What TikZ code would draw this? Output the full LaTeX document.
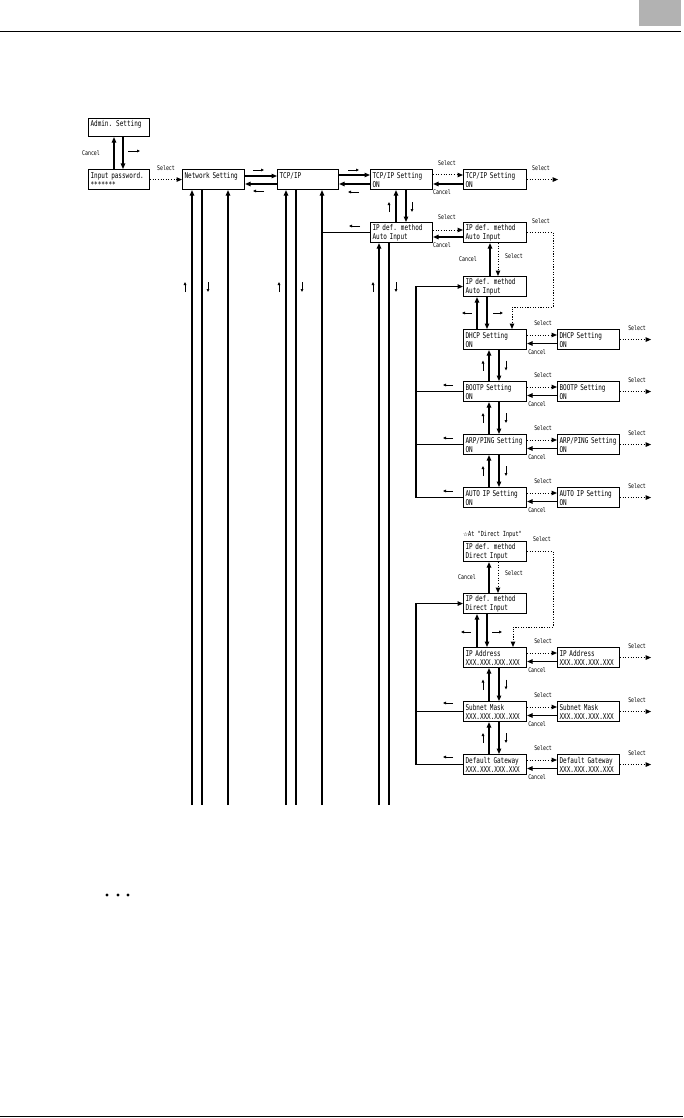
\documentclass[tikz,border=0pt]{standalone}
\usepackage{fontspec}
\setmonofont{Liberation Mono}
\newfontfamily\dejavufont{DejaVu Sans}
\newfontfamily\narrowmono[FakeStretch=0.75]{DejaVu Sans Mono}
\usetikzlibrary{arrows.meta}
\newcommand\bxfont{\fontsize{8}{9}\selectfont\narrowmono}
\newcommand\lbfont{\fontsize{6.5}{7}\selectfont\narrowmono}
\tikzset{
  box/.style={draw, line width=1.1pt, anchor=north west, minimum height=20pt,
    text width=58pt, inner xsep=2pt, inner ysep=0pt, align=left, font=\bxfont},
  boxL/.style={box, text width=59pt},
  lbl/.style={font=\lbfont, inner sep=0pt, anchor=west},
  arr/.style={line width=1.1pt, -{Triangle[length=5.5pt,width=4.5pt]}},
  ln/.style={line width=1.1pt},
  dotarr/.style={line width=1pt, dash pattern=on 1.1pt off 1.5pt, -{Triangle[length=5.5pt,width=4.5pt]}},
  dirarr/.style={line width=0.7pt, -{Triangle[length=3pt,width=2.6pt]}},
}
\begin{document}
\begin{tikzpicture}[x=1pt,y=-1pt]
\useasboundingbox (0,0) rectangle (683,1118);
% header / footer
\fill[black!30] (639,0) rectangle (681,26);
\draw[line width=1pt] (0,32) -- (681,32);
\draw[line width=1.3pt] (0,1116.5) -- (683,1116.5);
\fill (107,895) circle (1.6pt) (118,895) circle (1.6pt) (128,895) circle (1.6pt);

% ---------- boxes ----------
\node[box, minimum height=18pt, text width=57pt] (admin) at (88,118) {Admin. Setting\\\mbox{}};
\node[box, text width=57pt] (pw) at (88,169) {Input password.\\********};
\node[box] (net) at (182,169) {Network Setting\\\mbox{}};
\node[box, text width=57pt] (tcp) at (277,169) {TCP/IP\\\mbox{}};
\node[box] (ts1) at (370,169) {TCP/IP Setting\\ON};
\node[boxL] (ts2) at (463,169) {TCP/IP Setting\\ON};
\node[box] (ip2) at (370,222) {IP def. method\\Auto Input};
\node[boxL] (ipR) at (463,222) {IP def. method\\Auto Input};
\node[boxL] (ip3) at (463,276) {IP def. method\\Auto Input};
\node[boxL] (dhcp) at (463,329) {DHCP Setting\\ON};
\node[box] (dhcpR) at (557,329) {DHCP Setting\\ON};
\node[boxL] (boot) at (463,381) {BOOTP Setting\\ON};
\node[box] (bootR) at (557,381) {BOOTP Setting\\ON};
\node[boxL] (arp) at (463,434) {ARP/PING Setting\\ON};
\node[box] (arpR) at (557,434) {ARP/PING Setting\\ON};
\node[boxL] (auto) at (463,487) {AUTO IP Setting\\ON};
\node[box] (autoR) at (557,487) {AUTO IP Setting\\ON};
\node[boxL] (d1) at (463,541) {IP def. method\\Direct Input};
\node[boxL] (d2) at (463,593) {IP def. method\\Direct Input};
\node[boxL] (ipa) at (463,647) {IP Address\\XXX.XXX.XXX.XXX};
\node[box] (ipaR) at (557,647) {IP Address\\XXX.XXX.XXX.XXX};
\node[boxL] (sub) at (463,701) {Subnet Mask\\XXX.XXX.XXX.XXX};
\node[box] (subR) at (557,701) {Subnet Mask\\XXX.XXX.XXX.XXX};
\node[boxL] (gw) at (463,754) {Default Gateway\\XXX.XXX.XXX.XXX};
\node[box] (gwR) at (557,754) {Default Gateway\\XXX.XXX.XXX.XXX};

% ---------- admin / password ----------
\draw[arr] ([xshift=26pt]pw.north west) -- ([xshift=26pt]admin.south west);
\draw[arr] ([xshift=35pt]admin.south west) -- ([xshift=35pt]pw.north west);
\node[lbl] (lcan0) at (82,153) {Cancel};
\draw[dirarr] (128,151) -- (140,151);
\draw[dotarr] (pw.east) -- (net.west);
\node[lbl] (lsel0) at (157,168) {Select};

% ---------- network <-> tcp/ip ----------
\draw[arr] ([yshift=-7pt]net.north east) -- ([yshift=-7pt]tcp.north west);
\draw[arr] ([yshift=-15pt]tcp.north west) -- ([yshift=-15pt]net.north east);
\draw[dirarr] (253,170) -- (264,170);
\draw[dirarr] (264,191) -- (253,191);

% ---------- tcp/ip <-> tcp/ip setting ----------
\draw[arr] ([yshift=-6pt]tcp.north east) -- ([yshift=-6pt]ts1.north west);
\draw[arr] ([yshift=-15pt]ts1.north west) -- ([yshift=-15pt]tcp.north east);
\draw[dirarr] (348,170) -- (359,170);
\draw[dirarr] (359,192) -- (348,192);

\draw[dotarr] ([yshift=-6pt]ts1.north east) -- ([yshift=-6pt]ts2.north west);
\draw[arr] ([yshift=-15pt]ts2.north west) -- ([yshift=-15pt]ts1.north east);
\node[lbl] (lsel1) at (438,163) {Select};
\node[lbl] (lcan1) at (433,192) {Cancel};
\draw[dotarr] (ts2.east) -- ++(31,0) coordinate (o1);
\node[lbl] (lsel1b) at (532,168) {Select};

% ---------- tcp/ip setting <-> ip def (level 2) ----------
\draw[arr] ([xshift=26pt]ip2.north west) -- ([xshift=26pt]ts1.south west);
\draw[arr] ([xshift=36pt]ts1.south west) -- ([xshift=36pt]ip2.north west);
\draw[dirarr] (389,212) -- (389,202);
\draw[dirarr] (412,202) -- (412,212);

\draw[dotarr] ([yshift=-8pt]ip2.north east) -- ([yshift=-8pt]ipR.north west);
\draw[arr] ([yshift=-15pt]ipR.north west) -- ([yshift=-15pt]ip2.north east);
\node[lbl] (lsel2) at (438,217) {Select};
\node[lbl] (lcan2) at (433,245) {Cancel};
\draw[dirarr] (360,226) -- (349,226);

% ---------- ipR <-> ip3 ----------
\draw[arr] ([xshift=27pt]ip3.north west) -- ([xshift=27pt]ipR.south west);
\draw[dotarr] ([xshift=35pt]ipR.south west) -- ([xshift=35pt]ip3.north west);
\node[lbl] (lcan3) at (459,259) {Cancel};
\node[lbl] (lsel3) at (505,256) {Select};
\coordinate (k1) at (553,307);
\draw[dotarr] (ipR.east) -| (k1) -| ([xshift=49pt]dhcp.north west);
\node[lbl] (lsel4) at (532,221) {Select};

% ---------- ip3 <-> dhcp ----------
\draw[arr] ([xshift=14pt]dhcp.north west) -- ([xshift=14pt]ip3.south west);
\draw[arr] ([xshift=24pt]ip3.south west) -- ([xshift=24pt]dhcp.north west);
\draw[dirarr] (472,313) -- (462,313);
\draw[dirarr] (493,313) -- (503,313);

% ---------- bus 1 ----------
\coordinate (bus) at (416,0);
\draw[arr] (auto.west) -- (auto.west -| bus) |- (ip3.west);
\draw[ln] (boot.west) -- (boot.west -| bus);
\draw[ln] (arp.west) -- (arp.west -| bus);
\draw[dirarr] (453,385) -- (443,385);
\draw[dirarr] (453,438) -- (443,438);
\draw[dirarr] (453,491) -- (443,491);

% ---------- direct input ----------
\node[lbl, font=\fontsize{7}{7}\selectfont\narrowmono] (star) at (463,535) {{\dejavufont\fontsize{5.5}{6}\selectfont ☆}At "Direct Input"};
\draw[arr] ([xshift=26pt]d2.north west) -- ([xshift=26pt]d1.south west);
\draw[dotarr] ([xshift=35pt]d1.south west) -- ([xshift=35pt]d2.north west);
\node[lbl] (lsel5) at (505,573) {Select};
\node[lbl] (lcan5) at (458,577) {Cancel};
\coordinate (k2) at (553,627);
\draw[dotarr] (d1.east) -| (k2) -| ([xshift=50pt]ipa.north west);
\node[lbl] (lsel6) at (533,539) {Select};
\draw[arr] ([xshift=14pt]ipa.north west) -- ([xshift=14pt]d2.south west);
\draw[arr] ([xshift=24pt]d2.south west) -- ([xshift=24pt]ipa.north west);
\draw[dirarr] (471,632) -- (461,632);
\draw[dirarr] (492,632) -- (502,632);
\draw[arr] (gw.west) -- (gw.west -| bus) |- (d2.west);
\draw[ln] (sub.west) -- (sub.west -| bus);
\draw[dirarr] (453,703) -- (443,703);
\draw[dirarr] (453,757) -- (443,757);

% ---------- left/right pairs ----------
\foreach \a/\b in {dhcp/dhcpR, boot/bootR, arp/arpR, auto/autoR, ipa/ipaR, sub/subR, gw/gwR} {
  \draw[dotarr] ([yshift=-6pt]\a.north east) -- ([yshift=-6pt]\b.north west);
  \draw[arr] ([yshift=-14.5pt]\b.north west) -- ([yshift=-14.5pt]\a.north east);
  \draw[dotarr] (\b.east) -- ++(31,0) coordinate (out\b);
  \node[lbl] at ([xshift=7pt,yshift=6pt]\a.north east) {Select};
  \node[lbl] at ([xshift=1pt,yshift=-23pt]\a.north east) {Cancel};
  \node[lbl] at ([xshift=8pt,yshift=1pt]\b.north east) {Select};
}

% ---------- vertical pairs ----------
\foreach \a/\b in {dhcp/boot, boot/arp, arp/auto, ipa/sub, sub/gw} {
  \draw[arr] ([xshift=26pt]\b.north west) -- ([xshift=26pt]\a.south west);
  \draw[arr] ([xshift=36pt]\a.south west) -- ([xshift=36pt]\b.north west);
  \path ([xshift=26pt]\a.south west) -- ([xshift=26pt]\b.north west) coordinate[midway] (m);
  \draw[dirarr] ([xshift=-6pt,yshift=-5pt]m) -- ([xshift=-6pt,yshift=5pt]m);
  \draw[dirarr] ([xshift=17pt,yshift=5pt]m) -- ([xshift=17pt,yshift=-5pt]m);
}

% ---------- long verticals ----------
\coordinate (v1) at (192,805);
\coordinate (v2) at (202,805);
\coordinate (v3) at (228,805);
\coordinate (v4) at (286,805);
\coordinate (v5) at (296,805);
\coordinate (v6) at (322,805);
\coordinate (v7) at (379,805);
\coordinate (v8) at (389,805);
\draw[arr] (v1) -- (v1 |- net.south);
\draw[ln] (v2 |- net.south) -- (v2);
\draw[arr] (v3) -- (v3 |- net.south);
\draw[arr] (v4) -- (v4 |- tcp.south);
\draw[ln] (v5 |- tcp.south) -- (v5);
\draw[arr] (v6) -- (v6 |- tcp.south);
\draw[arr] (v7) -- (v7 |- ip2.south);
\draw[ln] (v8 |- ip2.south) -- (v8);
\draw[ln] (ip2.west) -- (ip2.west -| v6);
\foreach \x in {185,279,373} \draw[dirarr] (\x,292) -- (\x,282);
\foreach \x in {208,302,396} \draw[dirarr] (\x,282) -- (\x,292);
\end{tikzpicture}
\end{document}
